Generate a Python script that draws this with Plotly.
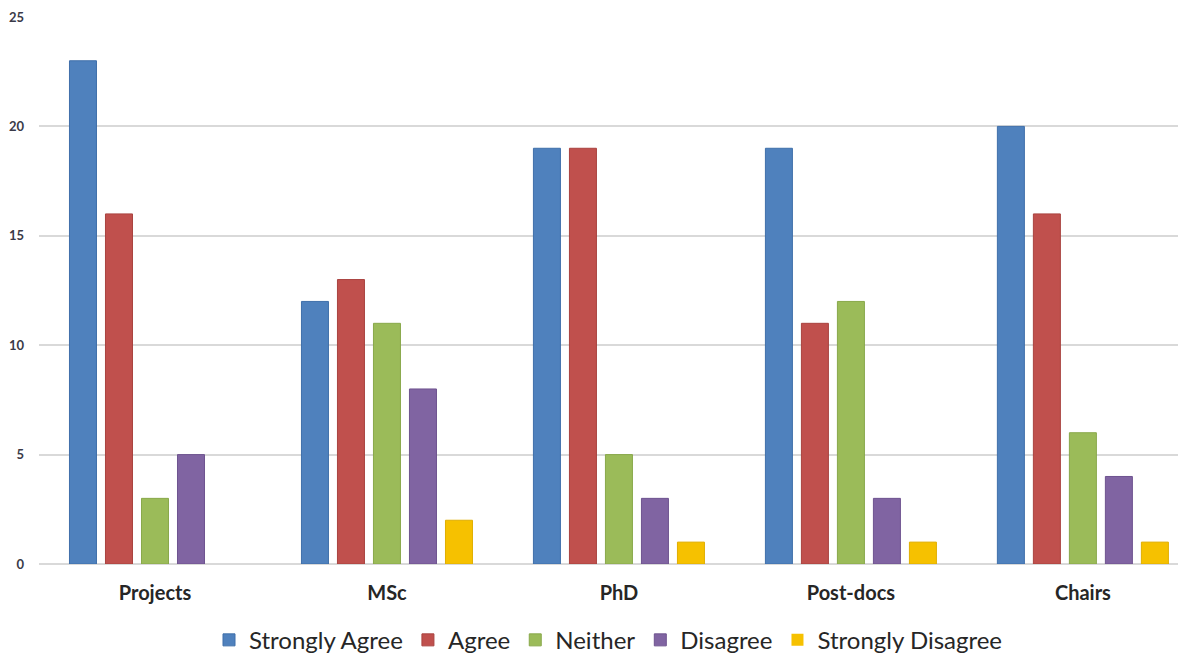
import plotly.graph_objects as go

categories = ["Projects", "MSc", "PhD", "Post-docs", "Chairs"]
series_names = ["Strongly Agree", "Agree", "Neither", "Disagree", "Strongly Disagree"]
strongly_agree = [23, 12, 19, 19, 20]
agree = [16, 13, 19, 11, 16]
neither = [3, 11, 5, 12, 6]
disagree = [5, 8, 3, 3, 4]
strongly_disagree = [0, 2, 1, 1, 1]
y_ticks = [0, 5, 10, 15, 20, 25]

series_values = [strongly_agree, agree, neither, disagree, strongly_disagree]
fills = ["#4F81BD", "#C0504D", "#9BBB59", "#8064A2", "#F6C100"]
edges = ["#3F6FAA", "#A9423F", "#88A84A", "#6E538F", "#E0AE00"]

fig = go.Figure()
for name, vals, fc, ec in zip(series_names, series_values, fills, edges):
    fig.add_trace(go.Bar(
        x=categories, y=vals, name=name,
        marker=dict(color=fc, line=dict(color=ec, width=[1 if v > 0 else 0 for v in vals])),
    ))

fig.update_layout(
    width=1178, height=654,
    margin=dict(l=39, r=0, t=17, b=90, autoexpand=False),
    paper_bgcolor="white", plot_bgcolor="white",
    barmode="group", bargap=0.224, bargroupgap=0.25,
    font=dict(family="Lato, Open Sans, sans-serif", color="#404040"),
    showlegend=True,
    legend=dict(
        orientation="h", x=0.5, xanchor="center",
        yref="container", y=0.021, yanchor="middle",
        font=dict(size=24, color="#262626"), itemwidth=30,
        traceorder="normal",
    ),
)
fig.update_xaxes(
    range=[-0.5, 4.41],
    showgrid=False, showline=False, ticks="", ticklabelstandoff=15,
    tickfont=dict(size=20, color="#262626", family="Lato, sans-serif", weight="bold"),
)
fig.update_yaxes(
    range=[0, 25], tickvals=y_ticks, showgrid=True, gridcolor="#D9D9D9", gridwidth=1.5,
    zeroline=True, zerolinecolor="#D9D9D9", zerolinewidth=1.5,
    showline=False, ticks="", ticklabelstandoff=14,
    tickfont=dict(size=13, color="#3A3A48", weight="bold"),
)

fig.write_html("out.html")
